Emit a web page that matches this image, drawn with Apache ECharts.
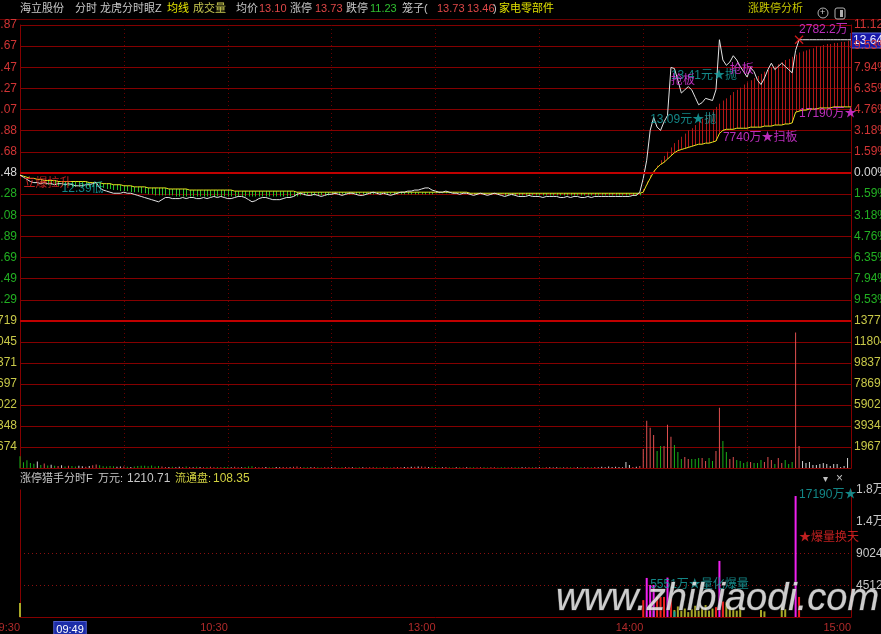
<!DOCTYPE html>
<html><head><meta charset="utf-8">
<script src="https://cdn.jsdelivr.net/npm/echarts@6/dist/echarts.min.js"></script>
<style>html,body{margin:0;padding:0;background:#000;overflow:hidden}#c{width:881px;height:634px}</style>
</head><body><div id="c"></div>
<script>
const prevClose = 12.48;
const priceTickLabels = ['11.09','11.29','11.49','11.69','11.89','12.08','12.28','12.48','12.68','12.88','13.07','13.27','13.47','13.67','13.87'];
const pctTickLabels = ['11.12%','9.53%','7.94%','6.35%','4.76%','3.18%','1.59%','0.00%','1.59%','3.18%','4.76%','6.35%','7.94%','9.53%','11.12%'];
const volTickLabels = ['0','19674','39348','59022','78697','98371','118045','137719'];
const indTickLabels = ['0','4512.00','9024.00','1.4万','1.8万'];
const xTickIdx = [0,60,120,180,240];
const xTickText = ['09:30','10:30','13:00','14:00','15:00'];
const cursorIdx = 19, cursorText = '09:49';

const price = [
12.46,12.44,12.42,12.40,12.39,12.39,12.38,12.39,12.38,12.38,
12.37,12.38,12.38,12.37,12.38,12.37,12.36,12.36,12.36,12.37,
12.37,12.38,12.39,12.34,12.32,12.31,12.30,12.29,12.29,12.29,
12.30,12.29,12.29,12.28,12.27,12.26,12.25,12.24,12.23,12.22,
12.21,12.23,12.25,12.25,12.24,12.24,12.24,12.25,12.24,12.25,
12.25,12.24,12.24,12.25,12.24,12.25,12.26,12.25,12.26,12.25,
12.24,12.24,12.25,12.26,12.26,12.25,12.23,12.21,12.22,12.24,
12.25,12.25,12.24,12.23,12.23,12.23,12.24,12.25,12.25,12.26,
12.28,12.29,12.28,12.27,12.27,12.28,12.27,12.26,12.27,12.28,
12.28,12.29,12.28,12.27,12.28,12.29,12.29,12.28,12.27,12.27,
12.28,12.29,12.30,12.29,12.28,12.29,12.28,12.27,12.28,12.29,
12.30,12.30,12.31,12.31,12.32,12.32,12.33,12.34,12.34,12.32,
12.31,12.30,12.30,12.31,12.30,12.29,12.29,12.28,12.29,12.29,
12.28,12.27,12.28,12.29,12.28,12.27,12.28,12.29,12.28,12.27,
12.26,12.27,12.28,12.27,12.26,12.26,12.26,12.27,12.26,12.26,
12.26,12.25,12.26,12.26,12.26,12.26,12.25,12.25,12.26,12.25,
12.26,12.26,12.25,12.25,12.26,12.25,12.26,12.26,12.26,12.26,
12.26,12.26,12.26,12.26,12.26,12.26,12.26,12.27,12.27,12.30,
12.43,12.60,12.88,13.00,12.91,12.88,12.96,13.02,13.47,13.46,
13.35,13.23,13.26,13.29,13.26,13.19,13.12,13.14,13.18,13.17,
13.16,13.26,13.73,13.54,13.49,13.52,13.58,13.54,13.48,13.43,
13.38,13.47,13.43,13.35,13.31,13.37,13.45,13.51,13.45,13.48,
13.51,13.48,13.45,13.42,13.63,13.73,13.73,13.73,13.73,13.73,
13.73,13.73,13.73,13.73,13.73,13.73,13.73,13.73,13.73,13.73,13.73];

const avgPrice = [
12.46,12.45,12.44,12.43,12.43,12.42,12.42,12.41,12.41,12.41,
12.41,12.40,12.40,12.40,12.40,12.40,12.40,12.40,12.40,12.40,
12.39,12.39,12.39,12.39,12.38,12.38,12.38,12.37,12.37,12.37,
12.36,12.36,12.36,12.35,12.35,12.35,12.35,12.34,12.34,12.34,
12.34,12.34,12.34,12.33,12.33,12.33,12.33,12.33,12.33,12.32,
12.32,12.32,12.32,12.32,12.32,12.32,12.32,12.32,12.32,12.32,
12.32,12.32,12.31,12.31,12.31,12.31,12.31,12.31,12.31,12.31,
12.31,12.31,12.31,12.31,12.31,12.31,12.31,12.31,12.31,12.31,
12.30,12.30,12.30,12.30,12.30,12.30,12.30,12.30,12.30,12.30,
12.30,12.30,12.30,12.30,12.30,12.30,12.30,12.30,12.30,12.30,
12.30,12.30,12.30,12.30,12.30,12.30,12.30,12.30,12.30,12.30,
12.30,12.30,12.30,12.30,12.30,12.30,12.30,12.30,12.30,12.30,
12.30,12.30,12.30,12.30,12.30,12.30,12.30,12.30,12.30,12.30,
12.29,12.29,12.29,12.29,12.29,12.29,12.29,12.29,12.29,12.29,
12.29,12.29,12.29,12.29,12.29,12.29,12.29,12.29,12.29,12.29,
12.29,12.29,12.29,12.29,12.29,12.29,12.29,12.29,12.29,12.29,
12.29,12.29,12.29,12.29,12.29,12.29,12.29,12.29,12.29,12.29,
12.29,12.29,12.29,12.29,12.29,12.29,12.29,12.29,12.29,12.29,
12.30,12.37,12.43,12.49,12.53,12.56,12.58,12.61,12.64,12.67,
12.69,12.70,12.71,12.72,12.73,12.74,12.75,12.75,12.76,12.76,
12.77,12.78,12.85,12.88,12.89,12.89,12.89,12.90,12.90,12.90,
12.90,12.91,12.91,12.91,12.91,12.92,12.92,12.92,12.93,12.93,
12.93,12.94,12.94,12.95,13.05,13.06,13.07,13.07,13.08,13.08,
13.08,13.09,13.09,13.09,13.09,13.10,13.10,13.10,13.10,13.10,13.10];

const trendLine = [
null,null,null,null,null,null,12.38,12.38,12.37,12.37,
12.37,12.36,12.36,12.36,12.36,12.35,12.35,12.35,12.35,12.35,
12.35,12.35,12.35,12.34,12.34,12.33,12.33,12.32,12.32,12.31,
12.31,12.31,12.30,12.30,12.30,12.29,12.29,12.28,12.28,12.27,
12.27,12.27,12.27,12.27,12.27,12.26,12.26,12.26,12.26,12.26,
12.26,12.26,12.26,12.26,12.26,12.26,12.26,12.26,12.26,12.26,
12.26,12.26,12.26,12.26,12.26,12.26,12.26,12.26,12.26,12.26,
12.26,12.26,12.26,12.26,12.26,12.26,12.26,12.26,12.26,12.26,
12.26,12.27,12.27,12.27,12.27,12.27,12.27,12.27,12.27,12.27,
12.28,12.28,12.28,12.28,12.28,12.28,12.28,12.28,12.28,12.28,
12.28,12.28,12.28,12.28,12.28,12.28,12.28,12.28,12.28,12.28,
12.28,12.28,12.28,12.28,12.28,12.28,12.28,12.28,12.28,12.28,
12.29,12.29,12.29,12.29,12.29,12.29,12.29,12.29,12.29,12.29,
12.28,12.28,12.28,12.28,12.28,12.28,12.28,12.28,12.28,12.28,
12.27,12.27,12.27,12.27,12.27,12.27,12.27,12.27,12.27,12.27,
12.27,12.27,12.27,12.27,12.27,12.27,12.27,12.27,12.27,12.27,
12.27,12.27,12.27,12.27,12.27,12.27,12.27,12.27,12.27,12.27,
12.27,12.27,12.27,12.27,12.27,12.27,12.27,12.27,12.27,12.27,
12.33,12.40,12.46,12.51,12.55,12.60,12.64,12.68,12.72,12.76,
12.79,12.82,12.85,12.88,12.90,12.93,12.96,12.99,13.02,13.04,
13.07,13.10,13.13,13.16,13.18,13.21,13.24,13.26,13.28,13.31,
13.33,13.35,13.37,13.39,13.41,13.43,13.45,13.47,13.48,13.50,
13.52,13.54,13.55,13.57,13.59,13.61,13.62,13.63,13.64,13.65,
13.67,13.67,13.68,13.69,13.69,13.70,13.70,13.71,13.71,13.72,13.72];

const volume = [
11000,5500,7200,4800,3900,6200,2800,4300,2400,3000,
2100,1800,2600,1500,2200,1900,1300,2000,1600,1200,
1800,2500,3200,2600,1700,1400,1900,1600,1100,1300,
1500,1200,1000,1400,1800,2200,2000,1600,2400,1500,
1900,1300,1000,900,1200,800,1100,900,1300,1000,
800,1100,900,700,1000,1200,800,900,700,1000,
900,700,1100,800,600,900,1400,1600,1000,800,
700,900,600,800,1000,700,900,600,800,1100,
1300,900,700,800,600,900,700,500,800,600,
700,800,500,600,900,700,600,500,800,600,
500,700,600,800,500,600,700,500,600,900,
800,1000,900,1200,1100,1400,1300,1100,900,1200,
1000,800,700,900,600,500,700,600,500,800,
600,700,500,600,800,500,600,700,500,600,
700,500,600,800,700,600,500,700,600,500,
600,500,700,600,500,800,600,500,700,600,
500,700,600,500,800,600,900,700,1200,800,
1500,900,1200,1000,800,5600,2800,900,1100,1800,
17900,44200,37600,31000,16000,20700,20700,40500,29200,21600,
15000,8500,10300,8500,8500,8500,9400,9400,6600,9400,
6600,16000,56500,25400,15000,8500,10300,7500,6600,4700,
5600,5600,4700,4700,7500,5600,10300,7500,3800,9400,
4700,7500,3800,5600,127000,20700,6600,4700,5600,2800,
2800,3800,4700,3800,1900,3800,3800,900,1900,9400,0];

// indicator bars: [minute index, value (万元)]
const indMagenta = [[181,5551],[182,4550],[183,4550],[187,5600],[202,7970],[224,17190]];
const indRed = [[180,2400],[182,1800],[184,2850],[185,2850],[186,2850],[188,2600],[201,1400],[203,2200],[225,2850]];
const indOlive = [[0,2000],[189,1000],[190,1500],[191,900],[192,1200],[193,700],[194,1100],[195,1600],[196,900],[197,1400],[198,1700],[199,900],[200,1200],[204,2100],[205,1500],[206,1200],[207,900],[208,1300],[214,1000],[215,800],[220,1400],[221,1100]];
const indTeal = [[183,1000],[186,1000],[189,800],[203,1600]];

// annotations: [minute index, price, text, kind]
const priceNotes = [
  [1,12.38,'立爆拉升','red'],
  [12,12.33,'12.39低','teal'],
  [182,12.98,'13.09元★抛','teal'],
  [188,13.39,'13.41元★抛','teal'],
  [188,13.35,'抢板','magenta'],
  [205,13.45,'抢板','magenta'],
  [225,13.82,'2782.2万','magenta'],
  [225,13.04,'17190万★','magenta'],
  [203,12.81,'7740万★扫板','magenta']
];
const indNotes = [
  [182,4555,'5551万★量化爆量','teal'],
  [225,17360,'17190万★','teal'],
  [225,11240,'★爆量换天','red']
];
const limitHit = [225,13.73];

// ---------- build ----------
const times = [];
const fmt = t => String(Math.floor(t/60)).padStart(2,'0')+':'+String(t%60).padStart(2,'0');
for (let m=0;m<=120;m++) times.push(fmt(570+m));
for (let m=1;m<=120;m++) times.push(fmt(780+m));

const STEP = 1.589, VSTEP = 19674, ISTEP = 4512;
const toPct = p => p==null ? null : ((p/prevClose)-1)*100;
const kindColor = {red:'#f02828', teal:'#18a8a8', magenta:'#e838e8'};
const RED='#d03434', GREEN='#22b022', WHITE='#d8d8d8', YEL='#c8c848';
const FONT = '"Liberation Sans","Noto Sans CJK SC",sans-serif';
const gridRed = '#840000';

const volData = volume.map((v,i)=>{
  const prev = i===0 ? prevClose : price[i-1];
  const c = price[i]>prev ? '#e05050' : (price[i]<prev ? '#18b018' : '#d0d0d0');
  return {value:v, itemStyle:{color:c}};
});
const stickData = [];
trendLine.forEach((t,i)=>{ if(t!=null) stickData.push([i, toPct(avgPrice[i]), toPct(t)]); });

const L = 20, R = 30;
const gbase = {left:L, right:R, containLabel:false, outerBoundsMode:'none'};
const grids = [
  Object.assign({top:25, height:296}, gbase),
  Object.assign({top:321, height:147}, gbase),
  Object.assign({top:490, height:127}, gbase)
];
const vSplit = {show:true, interval:(i)=> i%30===0 && i>0 && i<240, lineStyle:{color:'#6a0000', type:[1,3], width:1}};
const xAxes = [
  {gridIndex:0, type:'category', data:times, boundaryGap:false, axisLine:{show:false}, axisTick:{show:false}, axisLabel:{show:false}, splitLine:vSplit},
  {gridIndex:1, type:'category', data:times, boundaryGap:false, axisLine:{show:true, lineStyle:{color:gridRed}}, axisTick:{show:false}, axisLabel:{show:false}, splitLine:vSplit},
  {gridIndex:2, type:'category', data:times, boundaryGap:false, axisLine:{show:true, lineStyle:{color:gridRed}}, axisTick:{show:false},
    axisLabel:{show:true, interval:(i)=> xTickIdx.includes(i) || i===cursorIdx, align:'right', margin:5, color:'#b02a2a', fontSize:11, fontFamily:FONT, hideOverlap:false,
      formatter:(v,i)=> i===cursorIdx ? '{c|'+cursorText+'}' : xTickText[xTickIdx.indexOf(i)],
      rich:{c:{backgroundColor:'#1c2ca8', color:'#ffffff', padding:[2,2,1,2], fontSize:11, fontFamily:FONT, borderColor:'#5060d0', borderWidth:1}}},
    splitLine:{show:false}}
];
const pColor = (v)=>{ const k=Math.round(v/STEP); return k>0?RED:(k<0?GREEN:WHITE); };
const yAxes = [
  {gridIndex:0, type:'value', position:'left', min:-7*STEP, max:7*STEP, interval:STEP,
   axisLine:{show:true, lineStyle:{color:gridRed}}, axisTick:{show:false},
   axisLabel:{margin:3, fontSize:12, fontFamily:FONT, color:pColor, formatter:(v)=>{const k=Math.round(v/STEP)+7; return k===0?'':priceTickLabels[k];}},
   splitLine:{show:true, lineStyle:{color:gridRed, width:1}}},
  {gridIndex:0, type:'value', position:'right', min:-7*STEP, max:7*STEP, interval:STEP,
   axisLine:{show:true, lineStyle:{color:gridRed}}, axisTick:{show:false},
   axisLabel:{margin:3, fontSize:12, fontFamily:FONT, color:pColor, formatter:(v)=>{const k=Math.round(v/STEP)+7; return k===0?'':pctTickLabels[k];}},
   splitLine:{show:false}},
  {gridIndex:1, type:'value', position:'left', min:0, max:7*VSTEP, interval:VSTEP,
   axisLine:{show:true, lineStyle:{color:gridRed}}, axisTick:{show:false},
   axisLabel:{margin:3, fontSize:12, fontFamily:FONT, color:YEL, formatter:(v)=>{const k=Math.round(v/VSTEP); return k===0?'':volTickLabels[k];}},
   splitLine:{show:true, lineStyle:{color:gridRed}}},
  {gridIndex:1, type:'value', position:'right', min:0, max:7*VSTEP, interval:VSTEP,
   axisLine:{show:true, lineStyle:{color:gridRed}}, axisTick:{show:false},
   axisLabel:{margin:3, fontSize:12, fontFamily:FONT, color:YEL, formatter:(v)=>{const k=Math.round(v/VSTEP); return k===0?'':volTickLabels[k];}},
   splitLine:{show:false}},
  {gridIndex:2, type:'value', position:'left', min:0, max:4*ISTEP, interval:ISTEP,
   axisLine:{show:true, lineStyle:{color:gridRed}}, axisTick:{show:false}, axisLabel:{show:false},
   splitLine:{show:true, lineStyle:{color:['rgba(0,0,0,0)','#8a1010','#8a1010','rgba(0,0,0,0)','rgba(0,0,0,0)'], type:[1,3]}}},
  {gridIndex:2, type:'value', position:'right', min:0, max:4*ISTEP, interval:ISTEP,
   axisLine:{show:true, lineStyle:{color:gridRed}}, axisTick:{show:false},
   axisLabel:{margin:5, fontSize:12, fontFamily:FONT, color:'#c8c8c8', formatter:(v)=>{const k=Math.round(v/ISTEP); return k===0?'':indTickLabels[k];}},
   splitLine:{show:false}}
];

const noteSeries = (notes, xi, yi, conv) => ({
  type:'scatter', xAxisIndex:xi, yAxisIndex:yi, symbolSize:0, z:8, silent:true,
  data: notes.map(n=>({value:[n[0], conv(n[1])],
    label:{show:true, position:'right', distance:0, formatter:n[2], color:kindColor[n[3]], fontSize:12, fontFamily:FONT}}))
});

const indBar = (arr, color) => ({type:'bar', xAxisIndex:2, yAxisIndex:4, barWidth:2, barGap:'-100%', itemStyle:{color}, data:arr, silent:true});

const series = [
  {type:'custom', xAxisIndex:0, yAxisIndex:0, z:1, silent:true, data:stickData, encode:{x:0,y:[1,2]},
   renderItem:(params, api)=>{
     const a = api.coord([api.value(0), api.value(1)]);
     const b = api.coord([api.value(0), api.value(2)]);
     const x = Math.round(a[0])+0.5;
     return {type:'line', shape:{x1:x, y1:a[1], x2:x, y2:b[1]}, style:{stroke: api.value(2)>api.value(1)?'#b01818':'#28c028', lineWidth:1}};
   }},
  {type:'line', xAxisIndex:0, yAxisIndex:0, z:3, data:avgPrice.map(toPct), showSymbol:false, silent:true, lineStyle:{color:'#e8e820', width:1}},
  {type:'line', xAxisIndex:0, yAxisIndex:0, z:4, data:price.map(toPct), showSymbol:false, silent:true, lineStyle:{color:'#e4e4e4', width:1},
   markLine:{silent:true, symbol:'none', label:{show:false}, lineStyle:{color:'#c00000', width:2, type:'solid'}, data:[{yAxis:0}]}},
  {type:'scatter', xAxisIndex:0, yAxisIndex:0, z:9, silent:true, symbol:'path://M0,1L1,0L10,9L9,10ZM9,0L10,1L1,10L0,9Z', symbolSize:9,
   itemStyle:{color:'#ff2020'}, data:[[limitHit[0], toPct(limitHit[1])]]},
  noteSeries(priceNotes, 0, 0, toPct),
  {type:'bar', xAxisIndex:1, yAxisIndex:2, barWidth:1, data:volData, silent:true,
   markLine:{silent:true, symbol:'none', label:{show:false}, lineStyle:{color:'#c00000', width:2, type:'solid'}, data:[{yAxis:7*VSTEP}]}},
  indBar(indOlive,'#a8a828'),
  indBar(indTeal,'#18a0a0'),
  indBar(indRed,'#f02020'),
  indBar(indMagenta,'#f020f0'),
  noteSeries(indNotes, 2, 5, v=>v)
];

const T = (x,y,text,color,size,extra)=>Object.assign({type:'text', x, y, silent:true, style:{text, fill:color, font:(size||12)+'px '+FONT, textVerticalAlign:'middle'}}, extra||{});
const graphic = [
  {type:'line', silent:true, shape:{x1:0,y1:19.5,x2:881,y2:19.5}, style:{stroke:'#6a0000', lineWidth:1}},
  T(20,9,'海立股份','#c8c8c8',11), T(75,9,'分时','#c8c8c8',11), T(100,9,'龙虎分时眼Z','#c8c8c8',11),
  T(167,9,'均线','#e8e800',11), T(193,9,'成交量','#c8c850',11),
  T(236,9,'均价','#c8c8c8',11), T(259,9,'13.10','#e04848',11), T(290,9,'涨停','#c8c8c8',11),
  T(315,9,'13.73','#e04848',11), T(346,9,'跌停','#c8c8c8',11), T(370,9,'11.23','#30c030',11),
  T(402,9,'笼子(','#c8c8c8',11), T(437,9,'13.73','#e04848',11), T(467,9,'13.46','#e04848',11), T(493,9,')','#c8c8c8',11),
  T(499,9,'家电零部件','#e0e000',11), T(748,9,'涨跌停分析','#c8c800',11),
  {type:'circle', silent:true, shape:{cx:823,cy:13,r:5}, style:{fill:'none', stroke:'#b0b0b0', lineWidth:1}},
  T(820,13,'+','#d0d0d0',9),
  {type:'rect', silent:true, shape:{x:835,y:8,width:10,height:11,r:2}, style:{fill:'none', stroke:'#b0b0b0', lineWidth:1}},
  {type:'rect', silent:true, shape:{x:840,y:10,width:3,height:7}, style:{fill:'#b0b0b0'}},
  {type:'rect', silent:true, shape:{x:851,y:33,width:30,height:15}, style:{fill:'#1818a8', stroke:'#6070e0', lineWidth:1}},
  T(853,41,'13.64','#e8e8ff',12),
  T(20,479,'涨停猎手分时F','#c8c8c8',11), T(98,479,'万元:','#c8c8c8',11), T(127,479,'1210.71','#c8c8c8',12),
  T(175,479,'流通盘:','#d0d040',11), T(213,479,'108.35','#d0d040',12),
  T(823,479,'▾','#c0c0c0',10), T(836,479,'×','#c0c0c0',12),
  {type:'text', silent:true, x:556, y:599, z:100, style:{text:'www.zhibiaodi.com', fill:'rgba(232,232,232,0.88)', stroke:'rgba(90,90,90,0.6)', lineWidth:1,
    font:'italic 38px "Liberation Sans",sans-serif', textVerticalAlign:'middle', shadowColor:'rgba(0,0,0,0.6)', shadowBlur:2, shadowOffsetX:2, shadowOffsetY:2}}
];

const chart = echarts.init(document.getElementById('c'));
chart.setOption({
  animation:false, backgroundColor:'#000000',
  grid:grids, xAxis:xAxes, yAxis:yAxes, series, graphic
});
</script></body></html>
